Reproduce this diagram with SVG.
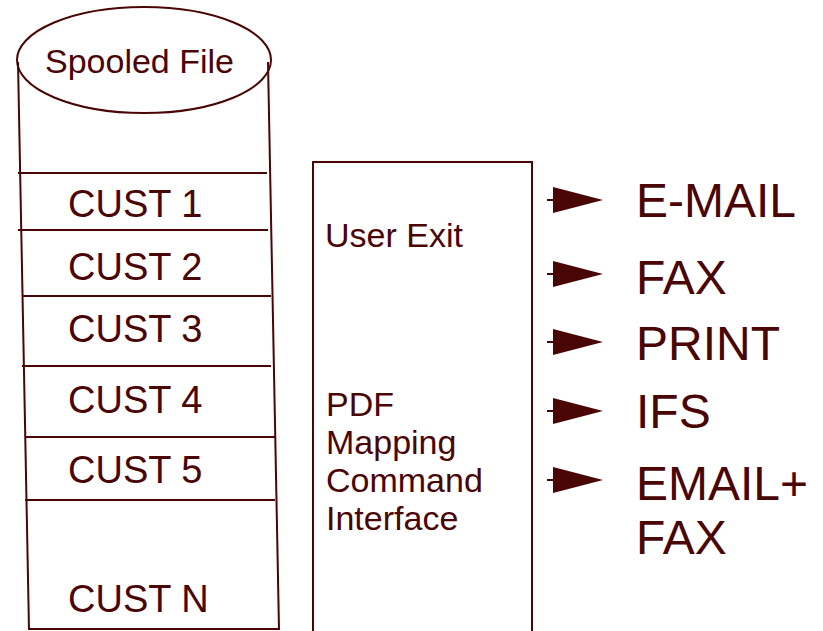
<svg xmlns="http://www.w3.org/2000/svg" width="823" height="631" viewBox="0 0 823 631">
<style>
.ln{stroke:#4a0505;stroke-width:2;fill:none}
.t{font-family:"Liberation Sans",Arial,sans-serif;fill:#4a0505}
.c{font-size:38px}
.m{font-size:34px}
.o{font-size:48px}
.ah{fill:#4a0505;stroke:none}
</style>
<rect width="823" height="631" fill="#fff"/>
<g id="spool">
<line class="ln" x1="18" y1="62" x2="29" y2="630"/>
<line class="ln" x1="268" y1="62" x2="279" y2="630"/>
<line class="ln" x1="29" y1="629" x2="279" y2="629"/>
<ellipse class="ln" cx="144" cy="60" rx="127" ry="53" fill="#fff"/>
<text class="t" x="45" y="73" style="font-size:34px">Spooled File</text>
<line class="ln" x1="18" y1="173" x2="267" y2="173"/>
<line class="ln" x1="18" y1="230" x2="268" y2="230"/>
<line class="ln" x1="22" y1="296" x2="271" y2="296"/>
<line class="ln" x1="22" y1="366" x2="271" y2="366"/>
<line class="ln" x1="25" y1="437" x2="275" y2="437"/>
<line class="ln" x1="25" y1="500" x2="275" y2="500"/>
<text class="t c" x="68" y="217">CUST 1</text>
<text class="t c" x="68" y="280">CUST 2</text>
<text class="t c" x="68" y="342">CUST 3</text>
<text class="t c" x="68" y="413">CUST 4</text>
<text class="t c" x="68" y="483">CUST 5</text>
<text class="t c" x="68" y="612">CUST N</text>
</g>
<g id="exit">
<path class="ln" d="M313,632 V162 H532 V632"/>
<text class="t m" x="325" y="247">User Exit</text>
<text class="t m" x="326" y="416">PDF</text>
<text class="t m" x="326" y="454">Mapping</text>
<text class="t m" x="326" y="492">Command</text>
<text class="t m" x="326" y="530">Interface</text>
</g>
<g id="connectors">
<line class="ln" x1="547" y1="200" x2="560" y2="200"/>
<polygon class="ah" points="553,187 603,200 553,213"/>
<line class="ln" x1="547" y1="274" x2="560" y2="274"/>
<polygon class="ah" points="553,261 603,274 553,287"/>
<line class="ln" x1="547" y1="342" x2="560" y2="342"/>
<polygon class="ah" points="553,329 603,342 553,355"/>
<line class="ln" x1="547" y1="411" x2="560" y2="411"/>
<polygon class="ah" points="553,398 603,411 553,424"/>
<line class="ln" x1="547" y1="480" x2="560" y2="480"/>
<polygon class="ah" points="553,467 603,480 553,493"/>
</g>
<g id="outputs">
<text class="t o" x="636" y="217">E-MAIL</text>
<text class="t o" x="636" y="294">FAX</text>
<text class="t o" x="636" y="360">PRINT</text>
<text class="t o" x="636" y="428">IFS</text>
<text class="t o" x="636" y="500">EMAIL+</text>
<text class="t o" x="636" y="554">FAX</text>
</g>
</svg>
